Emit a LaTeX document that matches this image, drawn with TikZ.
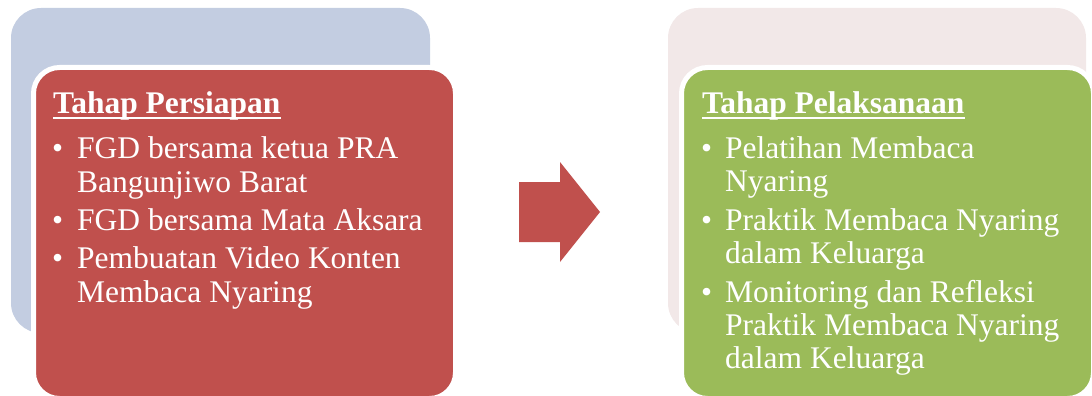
\documentclass[tikz,border=0pt]{standalone}
\usepackage{fontspec}
\setmainfont{Liberation Serif}
\definecolor{backblue}{HTML}{C3CDE1}
\definecolor{backpink}{HTML}{F2E8E8}
\definecolor{frontred}{HTML}{C0504D}
\definecolor{frontgreen}{HTML}{9BBB59}
\tikzset{
  backbox/.style={rounded corners=30pt},
  frontbox/.style={rounded corners=26pt, draw=white, line width=5pt},
  line/.style={anchor=base west, inner sep=0pt, text=white, font=\fontsize{31.5}{34}\selectfont},
  title/.style={line, font=\fontsize{31.5}{34}\selectfont\bfseries},
  ul/.style={draw=white, line width=1.8pt}
}
\begin{document}
\begin{tikzpicture}[x=1pt,y=-1pt]
\useasboundingbox (0,0) rectangle (1092,396);
% left stack
\fill[backbox, backblue] (11,8) rectangle (430,333);
\filldraw[frontbox, fill=frontred] (33.5,67.5) rectangle (455.5,398.5);
% right stack
\fill[backbox, backpink] (668,8) rectangle (1086,333);
\filldraw[frontbox, fill=frontgreen] (681.5,67.5) rectangle (1093.5,398.5);
% arrow
\fill[frontred] (519,182) -- (560,182) -- (560,162) -- (600,212) -- (560,262) -- (560,242) -- (519,242) -- cycle;
% left texts
\node[title] (lt) at (53,113) {Tahap Persiapan};
\draw[ul] ([yshift=-5pt]lt.base west) -- ([yshift=-5pt]lt.base east);
\node[line] (lb1) at (52,158) {•};
\node[line] (l1a) at (77,158) {FGD bersama ketua PRA};
\node[line] (l1b) at (77,192) {Bangunjiwo Barat};
\node[line] (lb2) at (52,230) {•};
\node[line] (l2a) at (77,230) {FGD bersama Mata Aksara};
\node[line] (lb3) at (52,268) {•};
\node[line] (l3a) at (77,268) {Pembuatan Video Konten};
\node[line] (l3b) at (77,302) {Membaca Nyaring};
% right texts
\node[title] (rt) at (702,113) {Tahap Pelaksanaan};
\draw[ul] ([yshift=-5pt]rt.base west) -- ([yshift=-5pt]rt.base east);
\node[line] (rb1) at (701,158) {•};
\node[line] (r1a) at (725,158) {Pelatihan Membaca};
\node[line] (r1b) at (725,191) {Nyaring};
\node[line] (rb2) at (701,230) {•};
\node[line] (r2a) at (725,230) {Praktik Membaca Nyaring};
\node[line] (r2b) at (725,263) {dalam Keluarga};
\node[line] (rb3) at (701,302) {•};
\node[line] (r3a) at (725,302) {Monitoring dan Refleksi};
\node[line] (r3b) at (725,335) {Praktik Membaca Nyaring};
\node[line] (r3c) at (725,368) {dalam Keluarga};
\end{tikzpicture}
\end{document}
